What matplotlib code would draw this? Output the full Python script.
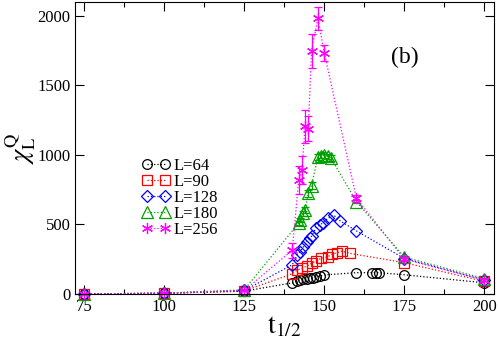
import numpy as np
import matplotlib.pyplot as plt
from matplotlib.ticker import MultipleLocator

plt.rcParams['font.family'] = 'Liberation Serif'
plt.rcParams['mathtext.fontset'] = 'stix'

# L=64
t64 = [75, 100, 125, 140, 141.5, 142.5, 143.5, 144.5, 145.5, 146.5, 147.5, 148.5, 150, 160, 165, 166, 167, 175, 200]
c64 = [0, 5, 20, 80, 95, 100, 105, 110, 115, 118, 122, 128, 137, 153, 153, 153, 153, 138, 80]

# L=90
t90 = [75, 100, 125, 140, 141.5, 143, 144.5, 146, 147.5, 149, 151, 152.5, 154, 155.5, 158, 175, 200]
c90 = [0, 5, 22, 145, 172, 184, 201, 220, 239, 256, 267, 287, 296, 308, 292, 225, 90]

# L=128
t128 = [75, 100, 125, 140, 141.5, 142.5, 143.5, 144.5, 145.5, 146, 147.5, 148.5, 149.5, 151, 153, 155, 160, 175, 200]
c128 = [0, 5, 25, 210, 280, 305, 340, 375, 400, 415, 478, 495, 511, 543, 566, 525, 454, 255, 100]

# L=180
t180 = [75, 100, 125, 142, 142.5, 143.5, 144, 145, 146, 148, 149, 150, 151, 152, 160, 175, 200]
c180 = [0, 5, 30, 510, 535, 580, 605, 725, 780, 985, 995, 1000, 990, 980, 665, 265, 110]
e180 = [0, 0, 0, 15, 15, 20, 20, 25, 25, 20, 20, 20, 20, 20, 10, 5, 5]

# L=256
t256 = [75, 100, 125, 140, 142, 143, 144, 145, 146, 148, 150, 160, 175, 200]
c256 = [0, 5, 25, 315, 820, 890, 1205, 1190, 1749, 1983, 1733, 690, 250, 100]
e256 = [0, 0, 0, 55, 100, 100, 120, 90, 123, 85, 60, 25, 10, 5]

fig = plt.figure(figsize=(4.98, 3.43), dpi=100)
ax = fig.add_axes([0.151, 0.143, 0.841, 0.851])

ms = 7
lw = 0.9
ax.plot(t64, c64, ls=':', lw=lw, color='black', marker='o', ms=ms, mfc='none', mew=lw, label='L=64', clip_on=False)
ax.plot(t90, c90, ls=':', lw=lw, color='red', marker='s', ms=ms, mfc='none', mew=lw, label='L=90', clip_on=False)
ax.plot(t128, c128, ls=':', lw=lw, color='blue', marker='D', ms=ms - 1, mfc='none', mew=lw, label='L=128', clip_on=False)

# error bars drawn separately so the legend shows only markers
ax.errorbar(t180, c180, yerr=e180, ls='none', color='#00a000', capsize=3, elinewidth=lw, capthick=lw)
ax.plot(t180, c180, ls=':', lw=lw, color='#00a000', marker='^', ms=ms + 1, mfc='none', mew=lw, label='L=180', clip_on=False)
ax.errorbar(t256, c256, yerr=e256, ls='none', color='magenta', capsize=3, elinewidth=lw, capthick=lw)
ax.plot(t256, c256, ls=':', lw=lw, color='magenta', marker=(6, 2, 0), ms=ms + 1, mew=lw, label='L=256', clip_on=False)

ax.set_xlim(72.2, 203)
ax.set_ylim(0, 2100)
ax.xaxis.set_major_locator(MultipleLocator(25))
ax.xaxis.set_minor_locator(MultipleLocator(12.5))
ax.yaxis.set_major_locator(MultipleLocator(500))
ax.tick_params(which='both', direction='in', top=True, right=True, labelsize=12)
ax.tick_params(which='major', length=6.5, width=0.8)
ax.tick_params(which='minor', length=3.5, width=0.8)

ax.set_xlabel(r'$\mathrm{t}_{1/2}$', fontsize=20, labelpad=0)
ax.set_ylabel(r'$\chi^{\mathrm{Q}}_{\mathrm{L}}$', fontsize=19)
ax.yaxis.set_label_coords(-0.088, 0.5)

ax.text(175, 1700, '(b)', fontsize=17, ha='center', va='center')

ax.legend(loc='upper left', bbox_to_anchor=(0.14, 0.495), frameon=False, fontsize=12, numpoints=2,
          handlelength=1.7, handletextpad=0.2, labelspacing=0.0, borderpad=0)

fig.savefig('out.png', dpi=100)
